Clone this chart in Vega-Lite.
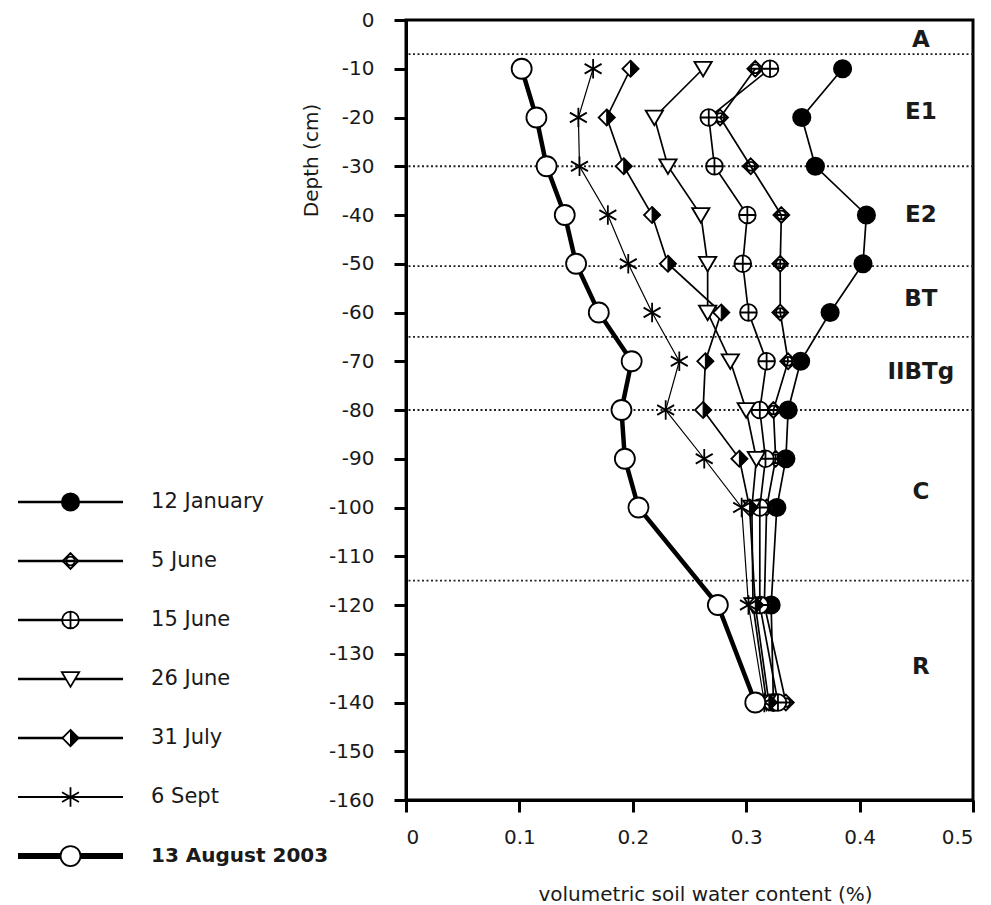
{
  "$schema": "https://vega.github.io/schema/vega-lite/v6.json",
  "padding": {"left": 15, "top": 8, "right": 5, "bottom": 5},
  "background": "white",
  "bounds": "flush",
  "spacing": 283,
  "config": {
    "font": "DejaVu Sans",
    "view": {"stroke": "black", "strokeWidth": 3},
    "axis": {
      "labelFont": "DejaVu Sans", "labelFontSize": 20, "labelColor": "#1a1a1a",
      "titleFont": "DejaVu Sans", "titleFontSize": 20, "titleFontWeight": "normal", "titleColor": "#1a1a1a",
      "domainColor": "black", "domainWidth": 3, "tickColor": "black", "tickWidth": 3, "tickSize": 12, "grid": false
    }
  },
  "datasets": {
    "profiles": [
      {"series": "12 January", "depth": -10, "swc": 0.385},
      {"series": "12 January", "depth": -20, "swc": 0.349},
      {"series": "12 January", "depth": -30, "swc": 0.361},
      {"series": "12 January", "depth": -40, "swc": 0.406},
      {"series": "12 January", "depth": -50, "swc": 0.403},
      {"series": "12 January", "depth": -60, "swc": 0.374},
      {"series": "12 January", "depth": -70, "swc": 0.348},
      {"series": "12 January", "depth": -80, "swc": 0.337},
      {"series": "12 January", "depth": -90, "swc": 0.335},
      {"series": "12 January", "depth": -100, "swc": 0.327},
      {"series": "12 January", "depth": -120, "swc": 0.322},
      {"series": "12 January", "depth": -140, "swc": 0.324},
      {"series": "5 June", "depth": -10, "swc": 0.308},
      {"series": "5 June", "depth": -20, "swc": 0.277},
      {"series": "5 June", "depth": -30, "swc": 0.304},
      {"series": "5 June", "depth": -40, "swc": 0.331},
      {"series": "5 June", "depth": -50, "swc": 0.330},
      {"series": "5 June", "depth": -60, "swc": 0.330},
      {"series": "5 June", "depth": -70, "swc": 0.337},
      {"series": "5 June", "depth": -80, "swc": 0.324},
      {"series": "5 June", "depth": -90, "swc": 0.326},
      {"series": "5 June", "depth": -100, "swc": 0.318},
      {"series": "5 June", "depth": -120, "swc": 0.316},
      {"series": "5 June", "depth": -140, "swc": 0.335},
      {"series": "15 June", "depth": -10, "swc": 0.321},
      {"series": "15 June", "depth": -20, "swc": 0.267},
      {"series": "15 June", "depth": -30, "swc": 0.272},
      {"series": "15 June", "depth": -40, "swc": 0.301},
      {"series": "15 June", "depth": -50, "swc": 0.297},
      {"series": "15 June", "depth": -60, "swc": 0.302},
      {"series": "15 June", "depth": -70, "swc": 0.318},
      {"series": "15 June", "depth": -80, "swc": 0.312},
      {"series": "15 June", "depth": -90, "swc": 0.317},
      {"series": "15 June", "depth": -100, "swc": 0.312},
      {"series": "15 June", "depth": -120, "swc": 0.312},
      {"series": "15 June", "depth": -140, "swc": 0.328},
      {"series": "26 June", "depth": -10, "swc": 0.262},
      {"series": "26 June", "depth": -20, "swc": 0.219},
      {"series": "26 June", "depth": -30, "swc": 0.231},
      {"series": "26 June", "depth": -40, "swc": 0.260},
      {"series": "26 June", "depth": -50, "swc": 0.266},
      {"series": "26 June", "depth": -60, "swc": 0.266},
      {"series": "26 June", "depth": -70, "swc": 0.286},
      {"series": "26 June", "depth": -80, "swc": 0.300},
      {"series": "26 June", "depth": -90, "swc": 0.309},
      {"series": "26 June", "depth": -100, "swc": 0.305},
      {"series": "26 June", "depth": -120, "swc": 0.306},
      {"series": "26 June", "depth": -140, "swc": 0.318},
      {"series": "31 July", "depth": -10, "swc": 0.198},
      {"series": "31 July", "depth": -20, "swc": 0.177},
      {"series": "31 July", "depth": -30, "swc": 0.192},
      {"series": "31 July", "depth": -40, "swc": 0.217},
      {"series": "31 July", "depth": -50, "swc": 0.231},
      {"series": "31 July", "depth": -60, "swc": 0.278},
      {"series": "31 July", "depth": -70, "swc": 0.264},
      {"series": "31 July", "depth": -80, "swc": 0.262},
      {"series": "31 July", "depth": -90, "swc": 0.294},
      {"series": "31 July", "depth": -100, "swc": 0.303},
      {"series": "31 July", "depth": -120, "swc": 0.308},
      {"series": "31 July", "depth": -140, "swc": 0.320},
      {"series": "6 Sept", "depth": -10, "swc": 0.165},
      {"series": "6 Sept", "depth": -20, "swc": 0.152},
      {"series": "6 Sept", "depth": -30, "swc": 0.153},
      {"series": "6 Sept", "depth": -40, "swc": 0.178},
      {"series": "6 Sept", "depth": -50, "swc": 0.196},
      {"series": "6 Sept", "depth": -60, "swc": 0.217},
      {"series": "6 Sept", "depth": -70, "swc": 0.241},
      {"series": "6 Sept", "depth": -80, "swc": 0.229},
      {"series": "6 Sept", "depth": -90, "swc": 0.263},
      {"series": "6 Sept", "depth": -100, "swc": 0.296},
      {"series": "6 Sept", "depth": -120, "swc": 0.302},
      {"series": "6 Sept", "depth": -140, "swc": 0.316},
      {"series": "13 August 2003", "depth": -10, "swc": 0.102},
      {"series": "13 August 2003", "depth": -20, "swc": 0.115},
      {"series": "13 August 2003", "depth": -30, "swc": 0.124},
      {"series": "13 August 2003", "depth": -40, "swc": 0.140},
      {"series": "13 August 2003", "depth": -50, "swc": 0.150},
      {"series": "13 August 2003", "depth": -60, "swc": 0.170},
      {"series": "13 August 2003", "depth": -70, "swc": 0.199},
      {"series": "13 August 2003", "depth": -80, "swc": 0.190},
      {"series": "13 August 2003", "depth": -90, "swc": 0.193},
      {"series": "13 August 2003", "depth": -100, "swc": 0.205},
      {"series": "13 August 2003", "depth": -120, "swc": 0.275},
      {"series": "13 August 2003", "depth": -140, "swc": 0.308}
    ],
    "boundaries": [
      {"boundary": -7}, {"boundary": -30}, {"boundary": -50.5}, {"boundary": -65}, {"boundary": -80}, {"boundary": -115}
    ],
    "horizons": [
      {"horizon": "A", "depth": -4.1},
      {"horizon": "E1", "depth": -18.9},
      {"horizon": "E2", "depth": -40},
      {"horizon": "BT", "depth": -57.2},
      {"horizon": "IIBTg", "depth": -72.2},
      {"horizon": "C", "depth": -96.8},
      {"horizon": "R", "depth": -132.7}
    ],
    "legendRows": [
      {"series": "12 January", "row": 0},
      {"series": "5 June", "row": 1},
      {"series": "15 June", "row": 2},
      {"series": "26 June", "row": 3},
      {"series": "31 July", "row": 4},
      {"series": "6 Sept", "row": 5},
      {"series": "13 August 2003", "row": 6}
    ]
  },
  "hconcat": [
    {
      "width": 105,
      "height": 780,
      "view": {"stroke": null},
      "data": {"name": "legendRows"},
      "encoding": {
        "y": {"field": "row", "type": "quantitative", "scale": {"domain": [-8.17, 5.05], "reverse": true, "nice": false, "zero": false}, "axis": null}
      },
      "layer": [
        {
          "mark": {"type": "rule", "color": "black"},
          "encoding": {
            "x": {"datum": 0, "type": "quantitative", "scale": {"domain": [0, 1], "nice": false}, "axis": null},
            "x2": {"datum": 1},
            "strokeWidth": {"condition": [
              {"test": "datum.series === '13 August 2003'", "value": 6},
              {"test": "datum.series === '6 Sept'", "value": 2}
            ], "value": 2.6}
          }
        },
        {
          "mark": {"type": "point", "filled": true, "stroke": "black", "strokeWidth": 1.8, "opacity": 1},
          "encoding": {
            "x": {"datum": 0.5, "type": "quantitative"},
            "shape": {"field": "series", "type": "nominal", "legend": null,
              "scale": {"domain": ["12 January", "5 June", "15 June", "26 June", "31 July", "6 Sept", "13 August 2003"],
                "range": ["circle", "M0,-1L1,0L0,1L-1,0Z M-0.55,0A0.55,0.55 0 1,0 0.55,0A0.55,0.55 0 1,0 -0.55,0Z M-1,0L1,0", "M-1,0A1,1 0 1,0 1,0A1,1 0 1,0 -1,0Z M-1,0L1,0 M0,-1L0,1", "M-1,-0.8L1,-0.8L0,0.9Z", "M0,-1L1,0L0,1L-1,0Z", "M0,-1L0,1 M-0.87,-0.5L0.87,0.5 M-0.87,0.5L0.87,-0.5", "circle"]}},
            "size": {"condition": [
              {"test": "datum.series === '12 January'", "value": 300},
              {"test": "datum.series === '5 June'", "value": 250},
              {"test": "datum.series === '15 June'", "value": 280},
              {"test": "datum.series === '26 June'", "value": 300},
              {"test": "datum.series === '31 July'", "value": 260},
              {"test": "datum.series === '6 Sept'", "value": 380}
            ], "value": 400},
            "fill": {"condition": {"test": "datum.series === '12 January'", "value": "black"}, "value": "white"}
          }
        },
        {
          "transform": [{"filter": "datum.series === '31 July'"}],
          "mark": {"type": "point", "filled": true, "fill": "black", "stroke": "black", "strokeWidth": 1, "opacity": 1, "shape": "M0,-1L1,0L0,1Z", "size": 260},
          "encoding": {"x": {"datum": 0.5, "type": "quantitative"}}
        },
        {
          "transform": [{"filter": "datum.series !== '13 August 2003'"}],
          "mark": {"type": "text", "align": "left", "baseline": "middle", "fontSize": 21, "color": "#1a1a1a", "font": "DejaVu Sans"},
          "encoding": {
            "x": {"datum": 1.267, "type": "quantitative"},
            "text": {"field": "series"}
          }
        },
        {
          "transform": [{"filter": "datum.series === '13 August 2003'"}],
          "mark": {"type": "text", "align": "left", "baseline": "middle", "fontSize": 20, "fontWeight": "bold", "color": "#1a1a1a", "font": "DejaVu Sans"},
          "encoding": {
            "x": {"datum": 1.267, "type": "quantitative"},
            "text": {"field": "series"}
          }
        }
      ]
    },
    {
      "width": 567,
      "height": 780,
      "layer": [
        {
          "data": {"name": "boundaries"},
          "mark": {"type": "rule", "color": "#222", "strokeWidth": 1.8, "strokeDash": [2, 2.5]},
          "encoding": {
            "y": {"field": "boundary", "type": "quantitative"}
          }
        },
        {
          "data": {"name": "profiles"},
          "mark": {"type": "line", "color": "black"},
          "encoding": {
            "x": {"field": "swc", "type": "quantitative",
              "scale": {"domain": [0, 0.5], "nice": false},
              "axis": {"values": [0, 0.1, 0.2, 0.3, 0.4, 0.5], "format": "~g", "labelPadding": 15,
                "title": "volumetric soil water content (%)", "titleX": 299, "titleY": 94, "titleAlign": "center", "titleBaseline": "middle"}},
            "y": {"field": "depth", "type": "quantitative",
              "scale": {"domain": [-160, 0], "nice": false},
              "axis": {"values": [-160, -150, -140, -130, -120, -110, -100, -90, -80, -70, -60, -50, -40, -30, -20, -10, 0],
                "labelExpr": "replace(datum.label, '\u2212', '-')", "labelPadding": 20,
                "title": "Depth (cm)", "titleX": -95, "titleY": 140, "titleAngle": -90, "titleAlign": "center", "titleBaseline": "middle"}},
            "detail": {"field": "series"},
            "order": {"field": "depth", "type": "quantitative", "sort": "descending"},
            "strokeWidth": {"condition": [
              {"test": "datum.series === '13 August 2003'", "value": 4.5},
              {"test": "datum.series === '6 Sept'", "value": 1.2}
            ], "value": 1.7}
          }
        },
        {
          "data": {"name": "profiles"},
          "mark": {"type": "point", "filled": true, "stroke": "black", "strokeWidth": 1.8, "opacity": 1},
          "encoding": {
            "x": {"field": "swc", "type": "quantitative"},
            "y": {"field": "depth", "type": "quantitative"},
            "shape": {"field": "series", "type": "nominal", "legend": null,
              "scale": {"domain": ["12 January", "5 June", "15 June", "26 June", "31 July", "6 Sept", "13 August 2003"],
                "range": ["circle", "M0,-1L1,0L0,1L-1,0Z M-0.55,0A0.55,0.55 0 1,0 0.55,0A0.55,0.55 0 1,0 -0.55,0Z M-1,0L1,0", "M-1,0A1,1 0 1,0 1,0A1,1 0 1,0 -1,0Z M-1,0L1,0 M0,-1L0,1", "M-1,-0.8L1,-0.8L0,0.9Z", "M0,-1L1,0L0,1L-1,0Z", "M0,-1L0,1 M-0.87,-0.5L0.87,0.5 M-0.87,0.5L0.87,-0.5", "circle"]}},
            "size": {"condition": [
              {"test": "datum.series === '12 January'", "value": 300},
              {"test": "datum.series === '5 June'", "value": 250},
              {"test": "datum.series === '15 June'", "value": 280},
              {"test": "datum.series === '26 June'", "value": 300},
              {"test": "datum.series === '31 July'", "value": 260},
              {"test": "datum.series === '6 Sept'", "value": 380}
            ], "value": 400},
            "fill": {"condition": {"test": "datum.series === '12 January'", "value": "black"}, "value": "white"}
          }
        },
        {
          "data": {"name": "profiles"},
          "transform": [{"filter": "datum.series === '31 July'"}],
          "mark": {"type": "point", "filled": true, "fill": "black", "stroke": "black", "strokeWidth": 1, "opacity": 1, "shape": "M0,-1L1,0L0,1Z", "size": 260},
          "encoding": {
            "x": {"field": "swc", "type": "quantitative"},
            "y": {"field": "depth", "type": "quantitative"}
          }
        },
        {
          "data": {"name": "horizons"},
          "mark": {"type": "text", "align": "center", "baseline": "middle", "fontSize": 23, "fontWeight": "bold", "color": "#1a1a1a", "font": "DejaVu Sans"},
          "encoding": {
            "x": {"datum": 0.454, "type": "quantitative"},
            "y": {"field": "depth", "type": "quantitative"},
            "text": {"field": "horizon"}
          }
        }
      ]
    }
  ]
}
